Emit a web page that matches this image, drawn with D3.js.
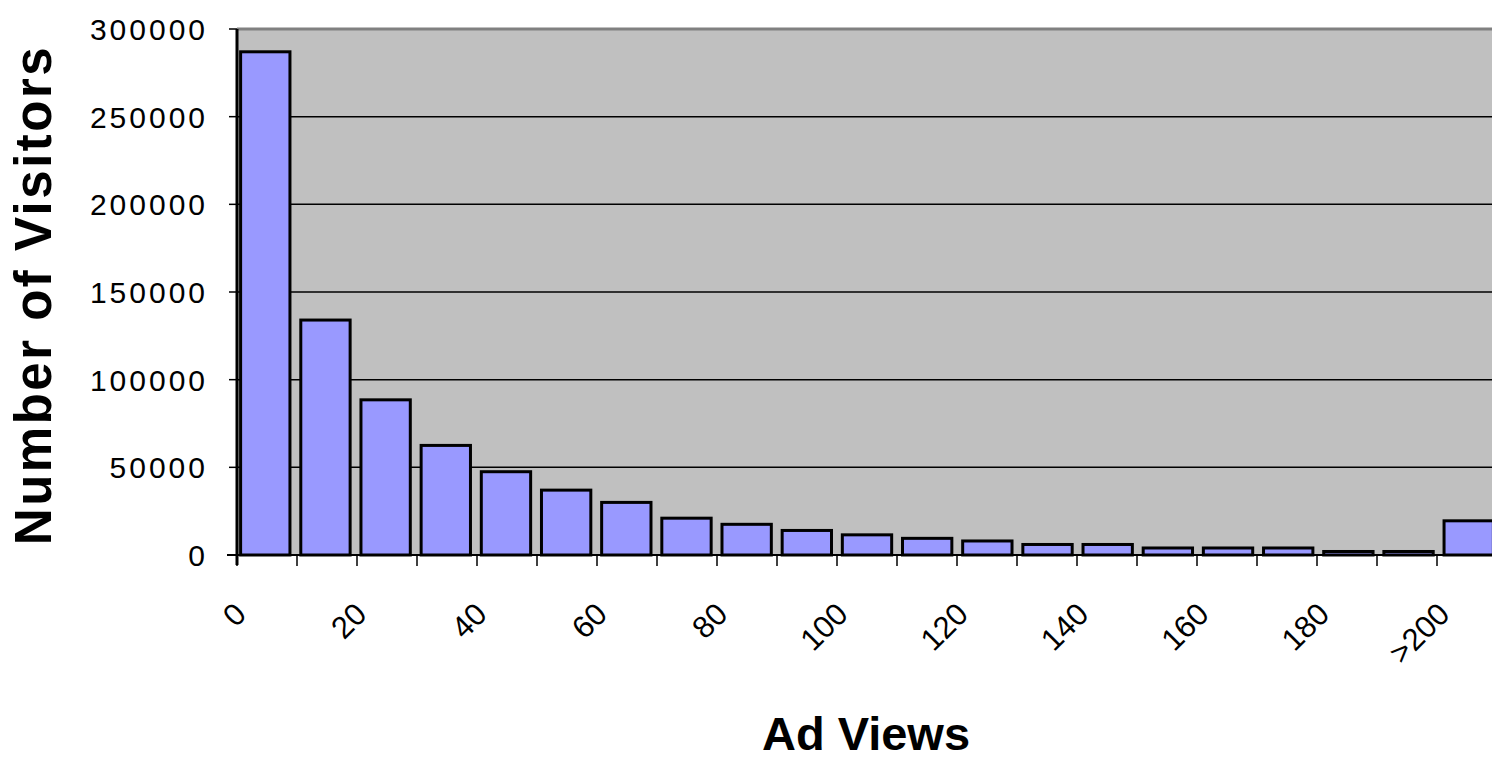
<!DOCTYPE html>
<html>
<head>
<meta charset="utf-8">
<script src="https://cdn.jsdelivr.net/npm/d3@7"></script>
<style>
  html, body { margin: 0; padding: 0; background: #fff; }
  svg { display: block; font-family: "Liberation Sans", Arial, sans-serif; }
</style>
</head>
<body>
<div id="chart"></div>
<script>
// bins of ad views (width 10), last bin is everything above 200
const categories = ['0', '10', '20', '30', '40', '50', '60', '70', '80', '90', '100',
  '110', '120', '130', '140', '150', '160', '170', '180', '190', '>200'];
const visitors = [287000, 134000, 88500, 62500, 47500, 37000, 30000, 21000, 17500, 14000, 11500,
  9500, 8000, 6000, 6000, 4000, 4000, 4000, 2000, 2000, 19500];
const tickLabels = ['0', '20', '40', '60', '80', '100', '120', '140', '160', '180', '>200'];
const labelIndex = [0, 2, 4, 6, 8, 10, 12, 14, 16, 18, 20];
const yTicks = [0, 50000, 100000, 150000, 200000, 250000, 300000];

const width = 1492;
const height = 757;
const plotLeft = 237, plotTop = 29, plotBottom = 555;
const band = 60;

const svg = d3.select('#chart')
  .append('svg')
  .attr('width', width)
  .attr('height', height);

const x = d3.scaleBand()
  .domain(categories)
  .range([plotLeft, plotLeft + band * categories.length])
  .paddingInner(0.18)
  .paddingOuter(0.06);

const y = d3.scaleLinear()
  .domain([0, 300000])
  .range([plotBottom, plotTop]);

// plot area
svg.append('rect')
  .attr('x', plotLeft)
  .attr('y', plotTop)
  .attr('width', band * categories.length)
  .attr('height', plotBottom - plotTop)
  .attr('fill', '#c0c0c0');

svg.append('line')
  .attr('x1', plotLeft).attr('x2', width)
  .attr('y1', plotTop).attr('y2', plotTop)
  .attr('stroke', '#808080')
  .attr('stroke-width', 3);

// gridlines
svg.selectAll('.grid')
  .data(yTicks.slice(1, -1))
  .enter()
  .append('line')
  .attr('x1', plotLeft).attr('x2', width)
  .attr('y1', d => y(d)).attr('y2', d => y(d))
  .attr('stroke', '#000')
  .attr('stroke-width', 1.5);

// bars
svg.selectAll('.bar')
  .data(categories)
  .enter()
  .append('rect')
  .attr('x', d => x(d))
  .attr('y', (d, i) => y(visitors[i]))
  .attr('width', x.bandwidth())
  .attr('height', (d, i) => plotBottom - y(visitors[i]))
  .attr('fill', '#9999ff')
  .attr('stroke', '#000')
  .attr('stroke-width', 3);

// y axis
svg.append('line')
  .attr('x1', plotLeft).attr('x2', plotLeft)
  .attr('y1', plotTop).attr('y2', plotBottom + 10)
  .attr('stroke', '#000')
  .attr('stroke-width', 3);

svg.selectAll('.ytick')
  .data(yTicks)
  .enter()
  .append('line')
  .attr('x1', plotLeft - 8).attr('x2', plotLeft)
  .attr('y1', d => y(d)).attr('y2', d => y(d))
  .attr('stroke', '#000')
  .attr('stroke-width', 1.5);

svg.selectAll('.ylabel')
  .data(yTicks)
  .enter()
  .append('text')
  .attr('x', 208)
  .attr('y', d => Math.max(y(d) + 11, 35))
  .attr('text-anchor', 'end')
  .style('font-size', '30px')
  .style('letter-spacing', '3px')
  .text(d => d);

// x axis
svg.append('line')
  .attr('x1', plotLeft - 10).attr('x2', width)
  .attr('y1', plotBottom).attr('y2', plotBottom)
  .attr('stroke', '#000')
  .attr('stroke-width', 2);

const bounds = d3.range(categories.length + 1).map(i => plotLeft + band * i);

svg.selectAll('.xtick')
  .data(bounds)
  .enter()
  .append('line')
  .attr('x1', d => d).attr('x2', d => d)
  .attr('y1', plotBottom).attr('y2', plotBottom + 11)
  .attr('stroke', '#000')
  .attr('stroke-width', 1.5);

svg.selectAll('.xlabel')
  .data(tickLabels)
  .enter()
  .append('text')
  .attr('text-anchor', 'end')
  .attr('transform', (d, i) => {
    const px = x.step() * labelIndex[i] + plotLeft + 11;
    return `translate(${px}, 616) rotate(-45)`;
  })
  .style('font-size', '31px')
  .text(d => d);

// axis titles
svg.append('text')
  .attr('transform', 'translate(51, 295) rotate(-90)')
  .attr('text-anchor', 'middle')
  .style('font-size', '51px')
  .style('font-weight', 'bold')
  .style('letter-spacing', '2.5px')
  .text('Number of Visitors');

svg.append('text')
  .attr('x', 866)
  .attr('y', 750)
  .attr('text-anchor', 'middle')
  .style('font-size', '47px')
  .style('font-weight', 'bold')
  .text('Ad Views');
</script>
</body>
</html>
